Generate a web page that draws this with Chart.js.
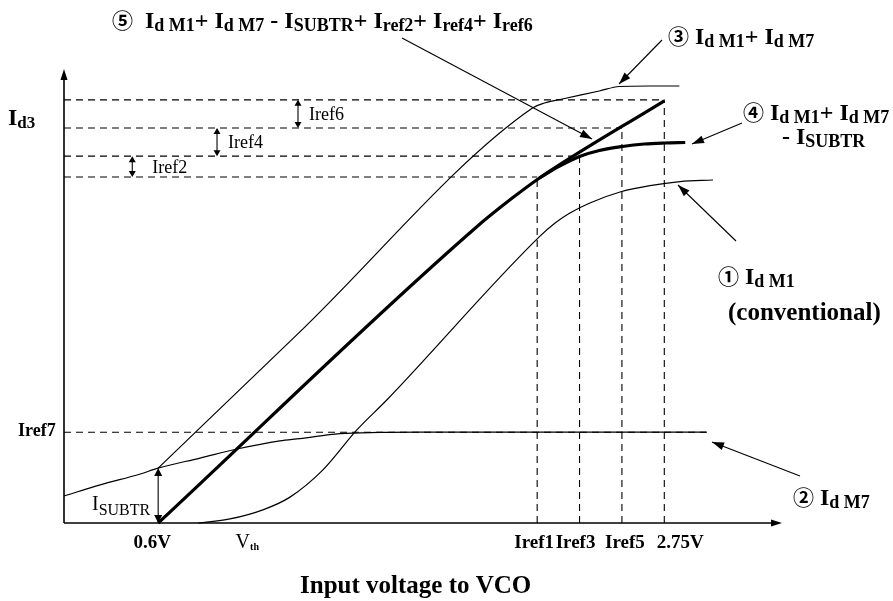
<!DOCTYPE html>
<html><head><meta charset="utf-8">
<script src="https://cdn.jsdelivr.net/npm/chart.js@4.4.0/dist/chart.umd.min.js"></script>
<style>html,body{margin:0;padding:0;background:#fff;}#wrap{width:893px;height:601px;}</style>
</head><body>
<div id="wrap"><canvas id="c" width="893" height="601"></canvas></div>
<script>
// ---------- data (x: input voltage to VCO [V], y: I_d3 in relative units 0..100) ----------
const xMin = 0.2, xMax = 3.25, yMin = 0, yMax = 100;
const xTicks = [0.6, 0.98, 2.21, 2.39, 2.57, 2.75];
const xTickLabels = ['0.6V', 'V', 'Iref1', 'Iref3', 'Iref5', '2.75V'];
const irefVoltages = [2.21, 2.39, 2.57, 2.75];
const irefLevels = [76.2, 80.8, 87.0, 93.2];
const irefStepLabels = ['Iref2', 'Iref4', 'Iref6'];
const irefStepX = [0.49, 0.85, 1.194];
const iref7Level = 20.0;
const iref7End = 2.93;
const isubtrX = 0.6;
const isubtrLevel = 12.1;

// (1) I_d M1 (conventional)
const m1X = [0.77, 0.905, 1.045, 1.16, 1.30, 1.444, 1.571, 2.222, 2.286, 2.349, 2.434, 2.562, 2.689, 2.817, 2.957];
const m1Y = [0, 0.9, 2.9, 5.7, 11.7, 20.5, 27.1, 63.2, 66.1, 68.3, 70.5, 72.9, 74.3, 75.2, 75.55];
// (2) I_d M7
const m7X = [0.2, 0.354, 0.524, 0.6, 0.778, 0.935, 1.117, 1.202, 1.372, 1.541, 1.711, 2.93];
const m7Y = [5.95, 8.4, 10.8, 12.1, 14.3, 16.3, 18.1, 18.6, 19.7, 19.95, 20.0, 20.0];
// (3) I_d M1 + I_d M7
const sumX = [0.6, 1.202, 2.19, 2.241, 2.317, 2.474, 2.559, 2.686, 2.814];
const sumY = [12.1, 42.1, 91.4, 92.5, 93.4, 95.15, 96.15, 96.26, 96.26];
// (4) I_d M1 + I_d M7 - I_SUBTR (beyond Iref1)
const subX = [2.22, 2.305, 2.39, 2.474, 2.572, 2.665, 2.75, 2.839];
const subY = [76.0, 78.6, 80.73, 82.05, 82.93, 83.48, 83.7, 83.81];
// (5) I_d M1 + I_d M7 - I_SUBTR + Iref2 + Iref4 + Iref6
const totX = [0.6, 1.95, 2.10, 2.22, 2.75];
const totY = [0, 65.1, 71.4, 76.0, 93.0];

// ---------- build datasets ----------
function pts(xs, ys) { return xs.map((v, i) => ({x: v, y: ys[i]})); }
const base = {borderColor: '#000', pointRadius: 0, showLine: true, fill: false, clip: false};
const thin = Object.assign({}, base, {borderWidth: 1.2, cubicInterpolationMode: 'monotone'});
const bold = Object.assign({}, base, {borderWidth: 3.2, cubicInterpolationMode: 'monotone'});
const dash = Object.assign({}, base, {borderWidth: 1.1, borderDash: [7, 5]});

const datasets = [
  Object.assign({}, thin, {data: pts(m1X, m1Y)}),
  Object.assign({}, thin, {data: pts(m7X, m7Y)}),
  Object.assign({}, thin, {data: pts(sumX, sumY)}),
  Object.assign({}, bold, {data: pts(subX, subY)}),
  Object.assign({}, bold, {data: pts(totX, totY)})
];
irefVoltages.forEach((v, i) => {
  datasets.push(Object.assign({}, dash, {data: [{x: xMin, y: irefLevels[i]}, {x: v, y: irefLevels[i]}]}));
  datasets.push(Object.assign({}, dash, {data: [{x: v, y: yMin}, {x: v, y: irefLevels[i]}]}));
});
datasets.push(Object.assign({}, dash, {data: [{x: xMin, y: iref7Level}, {x: iref7End, y: iref7Level}]}));

// ---------- text / annotation layout (pixels) ----------
const SERIF = '"Liberation Serif", "Times New Roman", serif';
const CIRC = '"Noto Sans CJK JP", "DejaVu Sans", sans-serif';
const B = 'bold 24px ' + SERIF, S = 'bold 18px ' + SERIF, C = 'bold 21px ' + CIRC;
const tickDx = [-6, -12, -3, -4, 3, 16];

function line(ctx, a, b, c, d) { ctx.beginPath(); ctx.moveTo(a, b); ctx.lineTo(c, d); ctx.stroke(); }
function head(ctx, fx, fy, tx, ty, len, hw) {
  const ang = Math.atan2(ty - fy, tx - fx);
  const bx = tx - len * Math.cos(ang), by = ty - len * Math.sin(ang);
  ctx.beginPath();
  ctx.moveTo(tx, ty);
  ctx.lineTo(bx + hw * Math.sin(ang), by - hw * Math.cos(ang));
  ctx.lineTo(bx - hw * Math.sin(ang), by + hw * Math.cos(ang));
  ctx.closePath(); ctx.fill();
}
function arrow(ctx, fx, fy, tx, ty, len, hw) {
  line(ctx, fx, fy, tx, ty); head(ctx, fx, fy, tx, ty, len, hw);
}
function rich(ctx, x, y, parts) {
  let cx = x;
  parts.forEach(p => {
    ctx.font = p[1];
    ctx.fillText(p[0], cx, y + (p[2] || 0));
    cx += ctx.measureText(p[0]).width;
  });
  return cx;
}

const deco = {
  id: 'deco',
  afterDatasetsDraw(chart) {
    const ctx = chart.ctx, xs = chart.scales.x, ys = chart.scales.y;
    const X = v => xs.getPixelForValue(v), Y = v => ys.getPixelForValue(v);
    ctx.save();
    ctx.fillStyle = '#000'; ctx.strokeStyle = '#000';
    ctx.textBaseline = 'alphabetic'; ctx.textAlign = 'left';
    // axes with arrowheads
    const x0 = X(xMin), y0 = Y(yMin), xe = X(xMax), yt = Y(yMax);
    ctx.lineWidth = 1.6;
    line(ctx, x0, y0, x0, yt + 5); head(ctx, x0, y0, x0, yt, 11, 3.5);
    line(ctx, x0, y0, xe - 5, y0); head(ctx, x0, y0, xe, y0, 11, 3.5);

    // I_SUBTR double arrow
    ctx.lineWidth = 1.1;
    const sx = X(isubtrX), sa = Y(isubtrLevel), sb = Y(yMin);
    line(ctx, sx, sa + 6, sx, sb - 6);
    head(ctx, sx, sb, sx, sa, 8, 4); head(ctx, sx, sa, sx, sb, 8, 4);

    // Iref2/4/6 step arrows
    const stepDx = [20, 11, 11];
    irefStepX.forEach((v, i) => {
      const px = X(v), ya = Y(irefLevels[i + 1]), yb = Y(irefLevels[i]);
      line(ctx, px, ya + 4, px, yb - 4);
      head(ctx, px, yb, px, ya, 6, 3.5); head(ctx, px, ya, px, yb, 6, 3.5);
      ctx.font = '18px ' + SERIF;
      ctx.fillText(irefStepLabels[i], px + stepDx[i], (ya + yb) / 2 + 6);
    });

    // x tick labels
    xTicks.forEach((v, i) => {
      const px = X(v) + tickDx[i];
      if (i === 1) {
        rich(ctx, px, 548, [['V', '20px ' + SERIF], ['th', 'bold 10px ' + SERIF, 2]]);
      } else {
        ctx.font = 'bold 19px ' + SERIF; ctx.textAlign = 'center';
        ctx.fillText(xTickLabels[i], px, 548);
        ctx.textAlign = 'left';
      }
    });
    // axis titles
    ctx.font = 'bold 25px ' + SERIF;
    ctx.fillText('Input voltage to VCO', 300, 593);
    rich(ctx, 8, 125, [['I', B], ['d3', 'bold 17px ' + SERIF, 3]]);
    ctx.font = 'bold 18px ' + SERIF;
    ctx.fillText('Iref7', 18, 436);
    rich(ctx, 92, 510, [['I', '20px ' + SERIF], ['SUBTR', '16px ' + SERIF, 5]]);

    // curve labels
    rich(ctx, 112, 28, [['⑤', C], ['  ', B], ['I', B], ['d M1', S, 3], ['+ ', B], ['I', B], ['d M7', S, 3],
      [' - ', B], ['I', B], ['SUBTR', S, 3], ['+ ', B], ['I', B], ['ref2', S, 3], ['+ ', B], ['I', B], ['ref4', S, 3],
      ['+ ', B], ['I', B], ['ref6', S, 3]]);
    rich(ctx, 668, 44, [['③', C], [' ', B], ['I', B], ['d M1', S, 3], ['+ ', B], ['I', B], ['d M7', S, 3]]);
    rich(ctx, 743, 120, [['④', C], [' ', B], ['I', B], ['d M1', S, 3], ['+ ', B], ['I', B], ['d M7', S, 3]]);
    rich(ctx, 782, 144, [['- ', B], ['I', B], ['SUBTR', S, 3]]);
    rich(ctx, 718, 284, [['①', C], [' ', B], ['I', B], ['d M1', S, 3]]);
    ctx.font = 'bold 25px ' + SERIF;
    ctx.fillText('(conventional)', 728, 320);
    rich(ctx, 793, 505, [['②', C], [' ', B], ['I', B], ['d M7', S, 3]]);

    // pointer arrows
    ctx.lineWidth = 1.1;
    arrow(ctx, 402, 38, 592, 139, 12, 4);
    arrow(ctx, 662, 40, 619, 84, 12, 4);
    arrow(ctx, 742, 123, 692, 144, 12, 4);
    arrow(ctx, 736, 241, 678, 185, 12, 4);
    arrow(ctx, 800, 476, 712, 442, 12, 4);
    ctx.restore();
  }
};

new Chart(document.getElementById('c'), {
  type: 'scatter',
  data: {datasets: datasets},
  options: {
    responsive: false, animation: false, devicePixelRatio: 1,
    layout: {padding: {left: 64, right: 111, top: 69, bottom: 78}},
    plugins: {legend: {display: false}, tooltip: {enabled: false}},
    scales: {
      x: {type: 'linear', min: xMin, max: xMax, display: false},
      y: {type: 'linear', min: yMin, max: yMax, display: false}
    }
  },
  plugins: [deco]
});
</script>
</body></html>
